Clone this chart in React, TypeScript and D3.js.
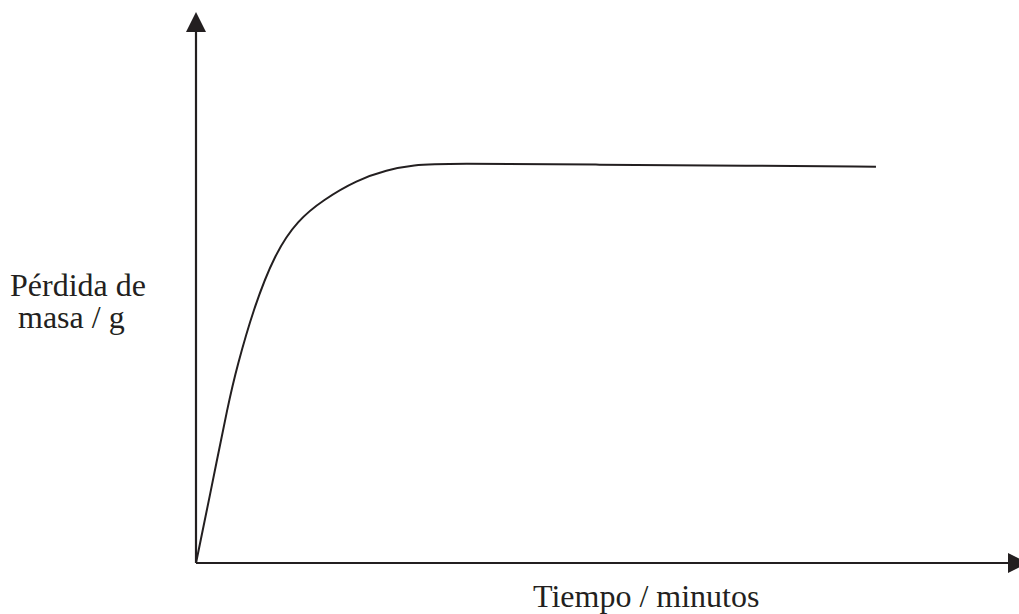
import React from 'react';
import * as d3 from 'd3';

// Curve (arbitrary units, 0-100 on both axes)
const tiempo = [0, 1.6, 4.06, 5.05, 7.02, 9.73, 12.56, 15.64, 19.83, 23.52, 26.72, 30.91, 49.75, 68.23, 83.74];
const perdida = [0, 11.86, 30.7, 36.91, 47.65, 58.38, 64.6, 68.36, 72.13, 74.01, 74.95, 75.27, 75.01, 74.82, 74.63];

const yLabelLines = ['Pérdida de', 'masa / g'];
const xLabel = 'Tiempo / minutos';

const W = 1019, H = 614;
const ink = '#231f20';

const App = () => {
    // origin of the axes and the base of the arrowheads
    const x = d3.scaleLinear().domain([0, 100]).range([196, 1008]);
    const y = d3.scaleLinear().domain([0, 100]).range([563, 32]);

    const data = tiempo.map((t, i) => ({ t, p: perdida[i] }));
    // basis spline smooths out the hand-read wobble
    const line = d3.line<{ t: number; p: number }>()
        .x(d => x(d.t))
        .y(d => y(d.p))
        .curve(d3.curveBasis);

    const x0 = x(0), y0 = y(0);
    const xEnd = x(100), yEnd = y(100);
    const head = 20, half = 10;

    return (
        <svg width={W} height={H} style={{ position: 'absolute', left: 0, top: 0, background: '#fff' }}
            fontFamily="'Liberation Serif', 'Times New Roman', serif">
            {/* axes */}
            <line x1={x0} y1={y0} x2={x0} y2={yEnd} stroke={ink} strokeWidth={2.2} />
            <line x1={x0} y1={y0} x2={xEnd} y2={y0} stroke={ink} strokeWidth={2.2} />
            <path d={`M${x0},${yEnd - head} L${x0 - half},${yEnd} L${x0 + half},${yEnd} Z`} fill={ink} />
            <path d={`M${xEnd + head},${y0} L${xEnd},${y0 - half} L${xEnd},${y0 + half} Z`} fill={ink} />

            {/* curve */}
            <path d={line(data) || ''} fill="none" stroke={ink} strokeWidth={2} />

            {/* labels */}
            <text fontSize={32} fill={ink}>
                <tspan x={10} y={296}>{yLabelLines[0]}</tspan>
                <tspan x={18} y={328}>{yLabelLines[1]}</tspan>
            </text>
            <text x={533} y={607} fontSize={32} fill={ink}>{xLabel}</text>
        </svg>
    );
};

export default App;
